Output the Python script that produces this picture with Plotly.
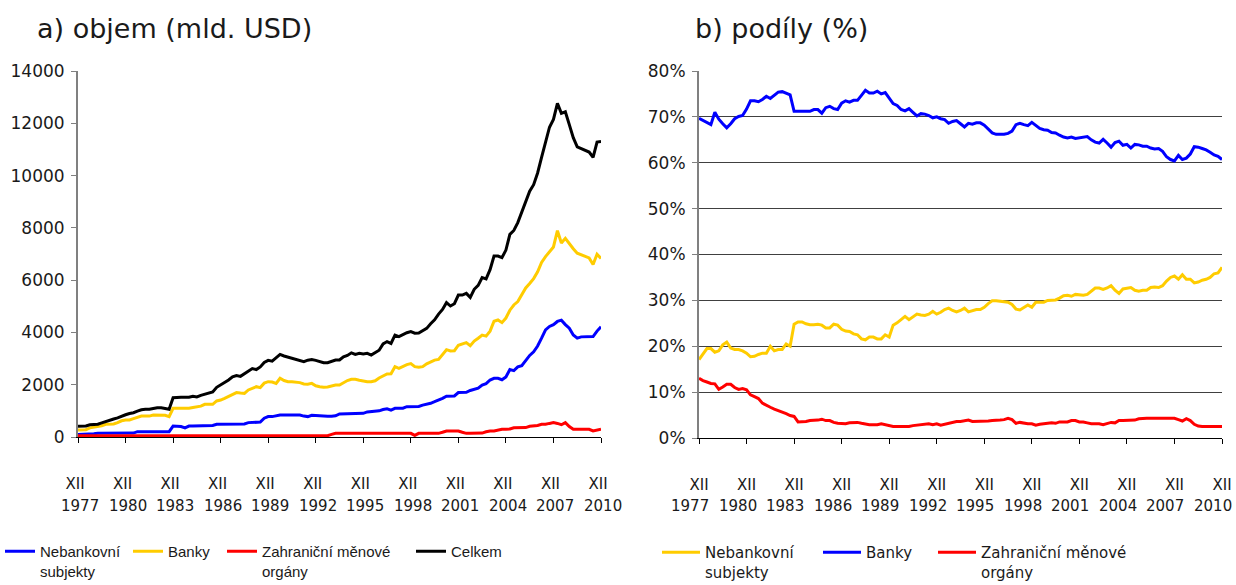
import plotly.graph_objects as go

# ---------------- categories (quarters XII 1977 ... XII 2010) ----------------
months = ["III", "VI", "IX", "XII"]
quarters = ["XII 1977"] + [f"{m} {y}" for y in range(1978, 2011) for m in months]
tick_years = [1977, 1980, 1983, 1986, 1989, 1992, 1995, 1998, 2001, 2004, 2007, 2010]
tick_cats = [f"XII {y}" for y in tick_years]

# ---------------- a) objem (mld. USD) ----------------
nebankovni_objem = [
    100, 100, 100, 110, 120, 140, 140, 140, 140, 140,
    140, 140, 140, 140, 150, 205, 205, 205, 205, 205,
    205, 205, 205, 205, 420, 420, 400, 350, 420, 420,
    420, 420, 420, 420, 440, 485, 485, 485, 485, 485,
    485, 490, 500, 550, 550, 550, 570, 720, 780, 780,
    820, 840, 840, 840, 840, 840, 840, 800, 780, 830,
    815, 800, 810, 790, 790, 810, 880, 880, 880, 890,
    905, 905, 905, 960, 970, 970, 1000, 1050, 1080, 1030,
    1095, 1095, 1100, 1160, 1160, 1160, 1170, 1220, 1250, 1290,
    1350, 1400, 1480, 1560, 1570, 1570, 1700, 1710, 1710, 1780,
    1840, 1870, 1990, 2040, 2180, 2245, 2245, 2190, 2300, 2580,
    2540, 2680, 2730, 2950, 3120, 3260, 3480, 3780, 4100, 4230,
    4300, 4420, 4470, 4300, 4160, 3900, 3780, 3830, 3840, 3840,
    3840, 4050, 4220,
]
banky_objem = [
    270, 270, 280, 350, 380, 395, 430, 485, 485, 500,
    550, 620, 650, 650, 700, 760, 800, 800, 800, 840,
    840, 840, 830, 780, 1100, 1100, 1100, 1100, 1100, 1130,
    1160, 1180, 1250, 1250, 1250, 1380, 1415, 1480, 1560, 1610,
    1700, 1680, 1670, 1800, 1870, 1925, 1890, 2060, 2115, 2100,
    2050, 2245, 2160, 2115, 2115, 2110, 2080, 2030, 2015, 2050,
    1960, 1925, 1900, 1910, 1940, 1990, 1990, 2080, 2160, 2205,
    2205, 2170, 2130, 2115, 2115, 2150, 2260, 2340, 2410, 2420,
    2690, 2625, 2710, 2770, 2810, 2690, 2665, 2690, 2800, 2880,
    2940, 2970, 3150, 3340, 3290, 3300, 3510, 3570, 3610, 3495,
    3670, 3780, 3900, 3860, 4050, 4430, 4475, 4375, 4550, 4850,
    5050, 5180, 5450, 5700, 5870, 6060, 6320, 6680, 6900, 7100,
    7270, 7890, 7420, 7600, 7380, 7200, 7030, 6960, 6920, 6850,
    6600, 6990, 6830,
]
zahranicni_objem = [
    50, 50, 50, 50, 50, 50, 50, 50, 50, 50,
    50, 50, 50, 50, 50, 50, 50, 50, 50, 50,
    50, 50, 50, 50, 50, 50, 50, 50, 50, 50,
    50, 50, 50, 50, 50, 50, 50, 50, 50, 50,
    50, 50, 50, 50, 50, 50, 50, 50, 50, 50,
    50, 50, 50, 50, 50, 50, 50, 50, 50, 50,
    50, 50, 50, 50, 100, 140, 140, 140, 140, 140,
    140, 140, 140, 140, 140, 140, 140, 140, 140, 140,
    140, 140, 140, 140, 140, 60, 140, 140, 140, 140,
    140, 140, 180, 230, 230, 230, 230, 180, 140, 140,
    140, 140, 150, 200, 230, 230, 260, 295, 295, 310,
    355, 355, 355, 360, 410, 420, 440, 485, 485, 520,
    550, 520, 470, 550, 400, 295, 295, 295, 295, 295,
    230, 270, 295,
]
celkem_objem = [
    410, 410, 420, 470, 480, 490, 540, 600, 650, 690,
    730, 800, 850, 900, 930, 990, 1040, 1060, 1060, 1090,
    1120, 1120, 1090, 1060, 1500, 1520, 1520, 1520, 1520, 1560,
    1530, 1590, 1630, 1690, 1720, 1900, 1990, 2060, 2180, 2300,
    2350, 2320, 2420, 2500, 2620, 2580, 2680, 2850, 2930, 2900,
    3050, 3160, 3100, 3050, 3020, 2980, 2920, 2880, 2940, 2960,
    2930, 2870, 2840, 2840, 2900, 2945, 2945, 3070, 3120, 3220,
    3160, 3200, 3175, 3200, 3135, 3225, 3320, 3560, 3650, 3580,
    3900, 3840, 3930, 3990, 4030, 3970, 3980, 4060, 4155, 4330,
    4480, 4700, 4880, 5140, 5010, 5100, 5430, 5430, 5495, 5340,
    5650, 5800, 6100, 6050, 6400, 6920, 6920, 6860, 7150, 7750,
    7900, 8200, 8600, 9080, 9400, 9650, 10100, 10700, 11300, 11850,
    12150, 12760, 12380, 12440, 11950, 11450, 11100, 11030, 10980, 10900,
    10700, 11280, 11300,
]

# ---------------- b) podíly (%) ----------------
nebankovni_podil = [
    17.1, 18.3, 19.5, 19.5, 18.7, 19.0, 20.3, 20.9, 19.6, 19.3,
    19.3, 19.0, 18.5, 17.7, 17.8, 18.2, 18.5, 18.5, 20.0, 19.0,
    19.3, 19.3, 20.5, 20.0, 24.8, 25.3, 25.3, 24.9, 24.7, 24.7,
    24.8, 24.6, 24.0, 24.0, 24.8, 24.6, 23.7, 23.3, 23.2, 22.7,
    22.5, 21.6, 21.4, 22.0, 22.0, 21.6, 21.6, 22.5, 22.0, 24.6,
    25.1, 25.8, 26.5, 25.8, 26.4, 27.0, 26.8, 26.7, 27.0, 27.6,
    27.0, 27.4, 28.0, 28.3, 27.8, 27.5, 27.8, 28.3, 27.5, 27.8,
    28.0, 28.0, 28.5, 29.3, 29.9, 29.9, 29.8, 29.7, 29.6, 29.1,
    28.1, 27.9, 28.4, 29.0, 28.5, 29.6, 29.6, 29.6, 30.0, 30.1,
    30.1, 30.5, 31.0, 31.1, 30.9, 31.3, 31.2, 31.1, 31.3, 32.0,
    32.7, 32.7, 32.4, 32.7, 33.2, 32.2, 31.5, 32.5, 32.6, 32.8,
    32.2, 32.0, 32.2, 32.2, 32.8, 32.9, 32.8, 33.2, 34.2, 35.0,
    35.3, 34.6, 35.6, 34.6, 34.6, 33.8, 34.0, 34.4, 34.6, 35.0,
    35.8, 36.0, 37.2,
]
banky_podil = [
    69.7, 69.2, 68.8, 68.3, 71.0, 69.5, 68.5, 67.6, 68.5, 69.6,
    70.1, 70.3, 71.7, 73.5, 73.5, 73.3, 73.8, 74.5, 74.0, 74.8,
    75.4, 75.5, 75.2, 74.8, 71.2, 71.2, 71.2, 71.2, 71.2, 71.6,
    71.6, 70.8, 72.0, 72.3, 71.8, 71.6, 73.0, 73.5, 73.2, 73.6,
    73.6, 74.7, 75.8, 75.2, 75.2, 75.6, 75.0, 75.3, 74.0, 72.9,
    72.5, 71.6, 71.3, 71.8, 71.0, 70.2, 70.7, 70.6, 70.3, 69.8,
    70.0, 69.6, 69.4, 68.6, 69.0, 69.2, 68.5, 67.8, 68.6, 68.4,
    68.7, 68.7, 68.2, 67.3, 66.5, 66.2, 66.2, 66.2, 66.4, 66.9,
    68.3, 68.6, 68.3, 68.1, 68.8, 68.2, 67.5, 67.2, 67.1, 66.6,
    66.5, 66.0, 65.6, 65.4, 65.6, 65.3, 65.4, 65.6, 65.7, 65.0,
    64.5, 64.3, 65.1, 64.3, 63.4, 64.4, 64.7, 63.8, 64.0, 63.2,
    64.0, 63.9, 63.6, 63.6, 63.2, 63.0, 63.1, 62.5, 61.3, 60.7,
    60.4, 61.6, 60.7, 61.0, 61.9, 63.5, 63.4, 63.1, 62.8, 62.3,
    61.7, 61.4, 60.7,
]
zahranicni_podil = [
    13.0, 12.5, 12.2, 11.9, 11.8, 10.6, 11.1, 11.7, 11.7, 11.0,
    10.6, 10.8, 10.5, 9.4, 9.0, 8.6, 7.6, 7.1, 6.7, 6.3,
    6.0, 5.7, 5.3, 4.9, 4.7, 3.5, 3.5, 3.6, 3.8, 3.8,
    3.9, 4.1, 3.8, 3.8, 3.4, 3.2, 3.1, 3.1, 3.3, 3.4,
    3.4, 3.2, 3.0, 2.9, 2.9, 2.9, 3.1, 2.9, 2.6, 2.5,
    2.5, 2.5, 2.5, 2.5, 2.7, 2.8, 2.8, 3.0, 3.1, 2.9,
    3.1, 2.8, 3.0, 3.1, 3.3, 3.6, 3.6, 3.8, 3.9, 3.6,
    3.6, 3.6, 3.6, 3.7, 3.8, 3.8, 3.9, 4.0, 4.3, 4.0,
    3.2, 3.4, 3.2, 3.1, 3.1, 2.8, 3.0, 3.1, 3.2, 3.3,
    3.2, 3.5, 3.5, 3.5, 3.8, 3.8, 3.5, 3.5, 3.3, 3.1,
    3.1, 3.1, 2.9, 3.1, 3.4, 3.3, 3.8, 3.8, 3.8, 3.8,
    3.9, 4.2, 4.3, 4.3, 4.3, 4.3, 4.3, 4.3, 4.3, 4.3,
    4.3, 4.0, 3.7, 4.2, 3.8, 3.0, 2.6, 2.5, 2.5, 2.5,
    2.5, 2.5, 2.5,
]

BLUE, YELLOW, RED, BLACK = "#0000FF", "#FFCC00", "#FF0000", "#000000"
W, H = 1236, 585
TXT = "#1a1a1a"

fig = go.Figure()

# each legend entry gets its own legend box so it can sit where the reference has it
left = [
    ("Nebankovní<br>subjekty", nebankovni_objem, BLUE, "legend", 0),
    ("Banky", banky_objem, YELLOW, "legend3", 128),
    ("Zahraniční měnové<br>orgány", zahranicni_objem, RED, "legend4", 222),
    ("Celkem", celkem_objem, BLACK, "legend5", 411),
]
for name, vals, col, lg, _ in left:
    fig.add_trace(go.Scatter(x=quarters, y=vals, name=name, mode="lines",
                             line=dict(color=col, width=3),
                             xaxis="x", yaxis="y", legend=lg))

right = [
    ("Nebankovní<br>subjekty", nebankovni_podil, YELLOW, "legend2", 657),
    ("Banky", banky_podil, BLUE, "legend6", 818),
    ("Zahraniční měnové<br>orgány", zahranicni_podil, RED, "legend7", 933),
]
for name, vals, col, lg, _ in right:
    fig.add_trace(go.Scatter(x=quarters, y=vals, name=name, mode="lines",
                             line=dict(color=col, width=3),
                             xaxis="x2", yaxis="y2", legend=lg))

xcommon = dict(type="category", categoryorder="array", categoryarray=quarters,
               range=[0, len(quarters) - 1], showline=True, linecolor="#000000",
               linewidth=1, ticks="outside", ticklen=5, tickcolor="#000000",
               tickvals=tick_cats, ticktext=["XII"] * len(tick_cats),
               ticklabelstandoff=28, showgrid=False, zeroline=False, automargin=False,
               tickfont=dict(family="DejaVu Sans", size=15, color=TXT))

legends = {}
for _, _, _, lg, xpx in left:
    legends[lg] = dict(orientation="h", x=xpx / W, y=1 - 535 / H, xanchor="left",
                       yanchor="top", valign="top", bgcolor="rgba(0,0,0,0)",
                       font=dict(family="Liberation Sans", size=15, color=TXT),
                       itemwidth=30)
for _, _, _, lg, xpx in right:
    legends[lg] = dict(orientation="h", x=xpx / W, y=1 - 536 / H, xanchor="left",
                       yanchor="top", valign="top", bgcolor="rgba(0,0,0,0)",
                       font=dict(family="DejaVu Sans", size=15, color=TXT),
                       itemwidth=38)

fig.update_layout(
    width=W, height=H, margin=dict(l=0, r=0, t=0, b=0, autoexpand=False),
    paper_bgcolor="white", plot_bgcolor="white", showlegend=True,
    xaxis=dict(xcommon, domain=[78 / W, 601 / W], anchor="y", ticklabelshift=-3),
    yaxis=dict(domain=[1 - 437 / H, 1 - 71 / H], anchor="x", range=[0, 14000],
               dtick=2000, tickformat="d", showline=True, linecolor="#808080",
               linewidth=2, ticks="outside", ticklen=5, tickcolor="#808080",
               showgrid=False, zeroline=False, ticklabelstandoff=3, automargin=False,
               tickfont=dict(family="DejaVu Sans", size=17, color=TXT)),
    xaxis2=dict(xcommon, domain=[699 / W, 1222 / W], anchor="y2"),
    yaxis2=dict(domain=[1 - 438 / H, 1 - 71 / H], anchor="x2", range=[0, 80],
                dtick=10, ticksuffix="%", showline=True, linecolor="#808080",
                linewidth=2, ticks="outside", ticklen=5, tickcolor="#808080",
                showgrid=True, gridcolor="#404040", gridwidth=1, zeroline=False,
                ticklabelstandoff=3, automargin=False,
                tickfont=dict(family="DejaVu Sans", size=17, color=TXT)),
    **legends,
)

annotations = [
    dict(text="a) objem (mld. USD)", x=35 / W, y=1 - 28 / H, xref="paper", yref="paper",
         xanchor="left", yanchor="middle", showarrow=False,
         font=dict(family="DejaVu Sans", size=27, color=TXT)),
    dict(text="b) podíly (%)", x=693 / W, y=1 - 28 / H, xref="paper", yref="paper",
         xanchor="left", yanchor="middle", showarrow=False,
         font=dict(family="DejaVu Sans", size=27, color=TXT)),
]
for xr, shift in (("x", 2), ("x2", -9)):
    for y, c in zip(tick_years, tick_cats):
        annotations.append(dict(text=str(y), x=c, xref=xr, y=1 - 506 / H, yref="paper",
                                xanchor="center", yanchor="middle", xshift=shift,
                                showarrow=False,
                                font=dict(family="DejaVu Sans", size=15, color=TXT)))
fig.update_layout(annotations=annotations)

fig.write_html("out.html", config={"displayModeBar": False},
               post_script="document.body.style.margin='0';document.body.style.overflow='hidden';")
